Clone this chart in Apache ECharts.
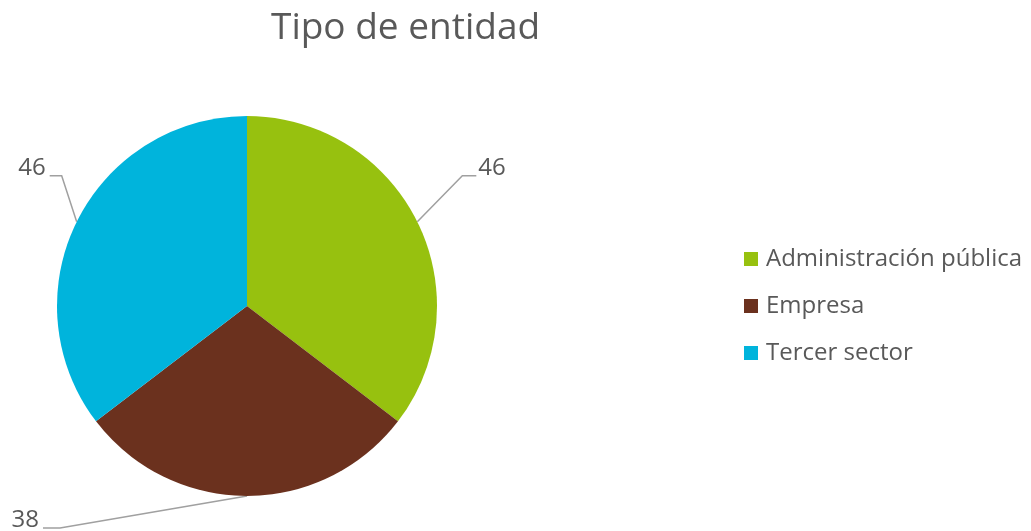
<!DOCTYPE html>
<html>
<head>
<meta charset="utf-8">
<script src="https://cdn.jsdelivr.net/npm/echarts@6/dist/echarts.min.js"></script>
<style>
  html, body { margin: 0; padding: 0; background: #ffffff; }
  #chart { width: 1031px; height: 531px; }
</style>
</head>
<body>
<div id="chart"></div>
<script>
const categories = ['Administración pública', 'Empresa', 'Tercer sector']
const values = [46, 38, 46]
const colors = ['#97c10f', '#6b311e', '#00b4dc']

// leader line shape per slice: bend and end offsets from the slice edge
const leaderShapes = [
  { bend: [45, -46], end: [59, -46], align: 'left' },
  { bend: [-187, 32], end: [-204, 32], align: 'right' },
  { bend: [-15, -46], end: [-27, -46], align: 'right' },
]

const chart = echarts.init(document.getElementById('chart'))

chart.setOption({
  backgroundColor: '#ffffff',
  animation: false,
  title: {
    text: 'Tipo de entidad',
    left: 266,
    top: 5,
    textStyle: {
      fontFamily: 'Open Sans',
      fontSize: 37,
      fontWeight: 'normal',
      color: '#595959',
    },
  },
  legend: {
    orient: 'vertical',
    left: 739,
    top: 242,
    itemWidth: 14,
    itemHeight: 14,
    itemGap: 23,
    icon: 'rect',
    data: categories,
    textStyle: {
      fontFamily: 'Open Sans',
      fontSize: 24,
      color: '#595959',
      padding: [0, 0, 0, 3],
    },
  },
  series: [
    {
      type: 'pie',
      center: [247, 306],
      radius: 190,
      startAngle: 90,
      clockwise: true,
      color: colors,
      data: categories.map((name, i) => ({ name, value: values[i] })),
      label: {
        show: true,
        position: 'outside',
        formatter: '{c}',
        fontFamily: 'Open Sans',
        fontSize: 24,
        color: '#595959',
        overflow: 'none',
      },
      labelLine: {
        show: true,
        lineStyle: { color: '#a0a0a0', width: 1.5 },
      },
      itemStyle: { borderWidth: 0 },
      emphasis: { disabled: true },
      labelLayout: (params) => {
        const shape = leaderShapes[params.dataIndex]
        const start = params.labelLinePoints[0]
        const bend = [start[0] + shape.bend[0], start[1] + shape.bend[1]]
        const end = [start[0] + shape.end[0], start[1] + shape.end[1]]
        return {
          x: end[0] + (shape.align === 'left' ? 2 : -4),
          y: end[1] - 8,
          align: shape.align,
          verticalAlign: 'middle',
          labelLinePoints: [start, bend, end],
        }
      },
    },
  ],
})
</script>
</body>
</html>
